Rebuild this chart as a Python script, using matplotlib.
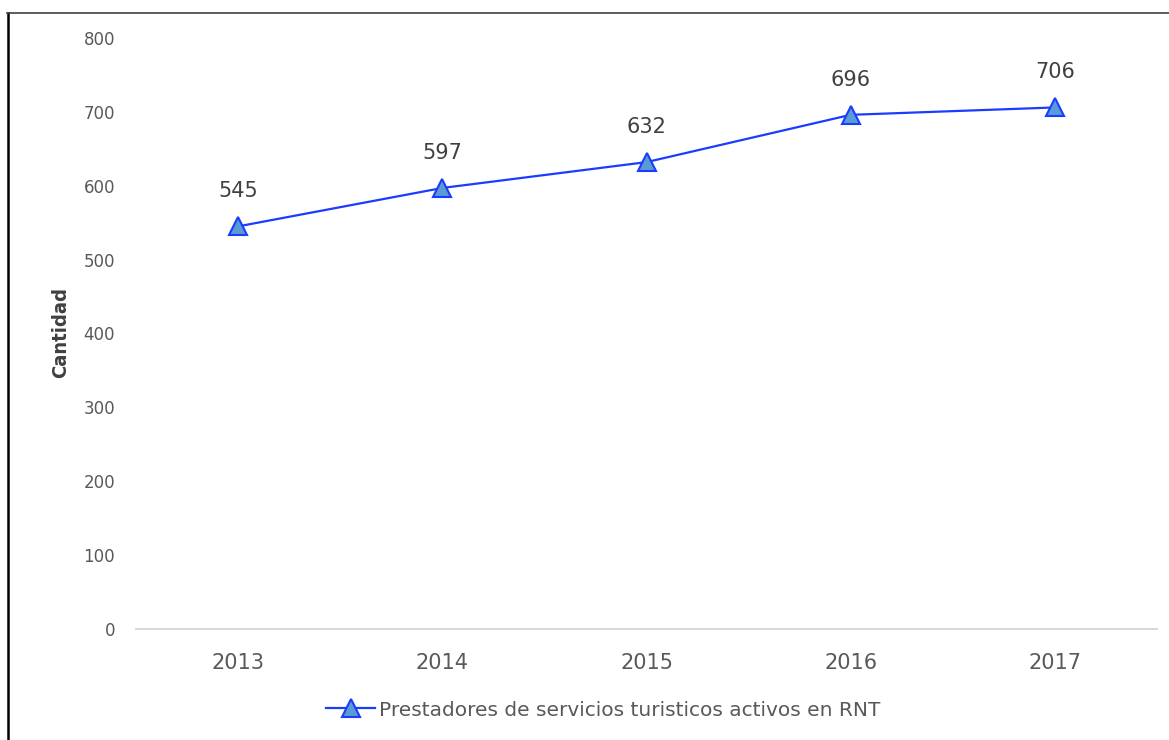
import matplotlib.pyplot as plt
from matplotlib.lines import Line2D

years = ['2013', '2014', '2015', '2016', '2017']
prestadores = [545, 597, 632, 696, 706]
serie = 'Prestadores de servicios turisticos activos en RNT'

txt = '#595959'
plt.rcParams['font.family'] = 'DejaVu Sans'
fig = plt.figure(figsize=(11.69, 7.40), dpi=100)
ax = fig.add_axes([136/1169, 1-629/740, 1021/1169, 591/740])

x = range(len(years))
ax.plot(x, prestadores, color='#1a3cff', lw=1.6, marker='^', markersize=13,
        markerfacecolor='#5b9bd5', markeredgecolor='#1a3cff', markeredgewidth=1.5,
        label=serie, zorder=3)
for i, v in zip(x, prestadores):
    ax.annotate(str(v), (i, v), xytext=(0, 18), textcoords='offset points',
                ha='center', va='bottom', fontsize=15, color='#404040')

ax.set_xlim(-0.5, 4.5)
ax.set_ylim(0, 800)
ax.set_yticks(range(0, 801, 100))
ax.set_xticks(list(x))
ax.set_xticklabels(years)
for s in ['top', 'right', 'left']:
    ax.spines[s].set_visible(False)
ax.spines['bottom'].set_color('#d9d9d9')
ax.spines['bottom'].set_linewidth(1.5)
ax.tick_params(axis='y', length=0, pad=15, labelsize=12, labelcolor=txt)
ax.tick_params(axis='x', length=0, pad=17, labelsize=15, labelcolor=txt)

fig.text(61/1169, 1-333/740, 'Cantidad', rotation=90, ha='center', va='center',
         fontsize=14.5, fontweight='bold', fontstretch='condensed', color='#404040')

fig.legend(loc='center', bbox_to_anchor=(0.516, 1-710/740), frameon=False,
           prop={'size': 14.5}, labelcolor=txt,
           handlelength=2.4, handletextpad=0.2)

# outer frame (left and top edges)
fig.add_artist(Line2D([7.5/1169, 7.5/1169], [0, 1-12.5/740], color='black', lw=1.8))
fig.add_artist(Line2D([7/1169, 1], [1-12.5/740, 1-12.5/740], color='#404040', lw=1.2))

fig.savefig('out.png', dpi=100)
